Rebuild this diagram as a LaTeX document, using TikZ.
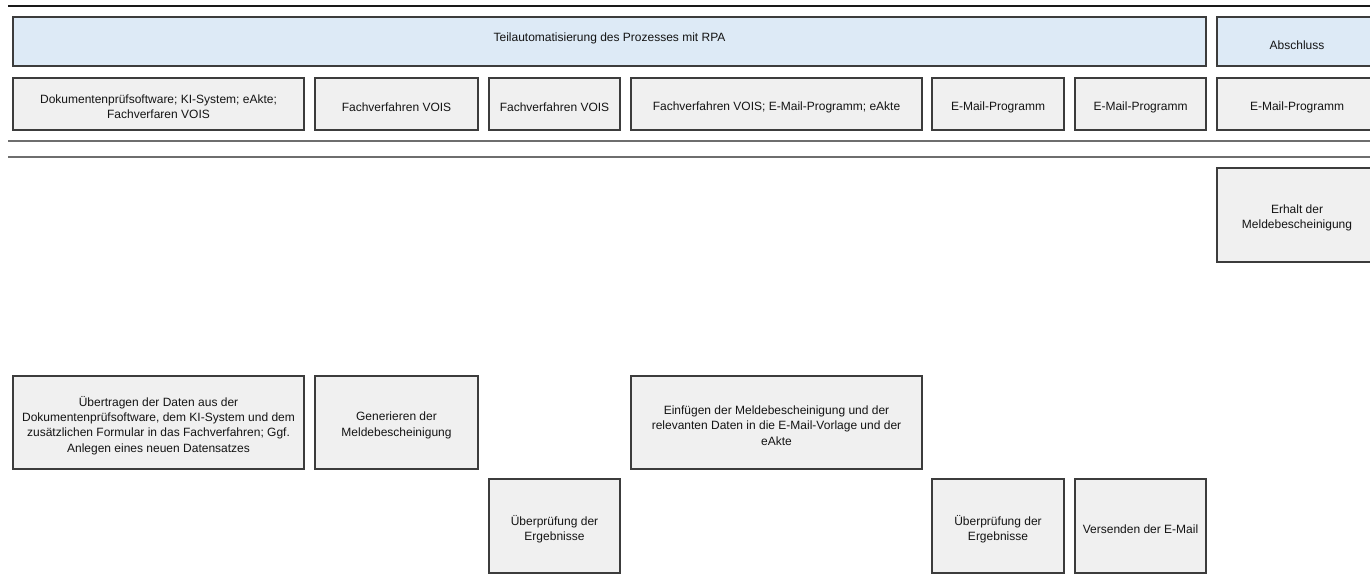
\documentclass[tikz,border=0pt]{standalone}
\usepackage{fontspec}
\setmainfont{Liberation Sans}
\definecolor{boxfill}{HTML}{F0F0F0}
\definecolor{boxline}{HTML}{3C3C3C}
\definecolor{headfill}{HTML}{DDEAF6}
\definecolor{sepline}{HTML}{6E6E6E}
\tikzset{
  cell/.style={draw=boxline, line width=1.3pt, fill=boxfill, inner sep=0pt},
  headcell/.style={cell, fill=headfill},
  celltext/.style={inner sep=0pt, align=center,
    font=\fontsize{12}{15.3}\selectfont, text=black!92},
  rule/.style={line width=2.6pt, black!90},
  thinrule/.style={line width=2pt, sepline}
}
\begin{document}
\begin{tikzpicture}[x=1pt, y=-1pt]
\useasboundingbox (0,0) rectangle (1370,582);

% horizontal rules
\coordinate (r0l) at (8,6);    \coordinate (r0r) at (1370,6);
\coordinate (r1l) at (8,141);  \coordinate (r1r) at (1370,141);
\coordinate (r2l) at (8,157);  \coordinate (r2r) at (1370,157);
\draw[rule] (r0l) -- (r0r);
\draw[thinrule] (r1l) -- (r1r);
\draw[thinrule] (r2l) -- (r2r);

% phase headers
\node[headcell, minimum width=1193pt, minimum height=49pt,
  label={[celltext, yshift=3pt]center:{Teilautomatisierung des Prozesses mit RPA}}] (phase) at (609.5,41.5) {};
\node[headcell, minimum width=160pt, minimum height=49pt,
  label={[celltext, yshift=-3.5pt]center:{Abschluss}}] (closing) at (1297,41.5) {};

% systems row
\node[cell, minimum width=291pt, minimum height=52pt,
  label={[celltext, yshift=-3pt]center:{Dokumentenprüfsoftware; KI-System; eAkte;\\Fachverfaren VOIS}}] (sysA) at (158.5,104) {};
\node[cell, minimum width=163pt, minimum height=52pt,
  label={[celltext, yshift=-3pt]center:{Fachverfahren VOIS}}] (sysB) at (396.5,104) {};
\node[cell, minimum width=131pt, minimum height=52pt,
  label={[celltext, yshift=-3pt]center:{Fachverfahren VOIS}}] (sysC) at (554.5,104) {};
\node[cell, minimum width=291pt, minimum height=52pt,
  label={[celltext, yshift=-3pt]center:{Fachverfahren VOIS; E-Mail-Programm; eAkte}}] (sysD) at (776.5,104) {};
\node[cell, minimum width=132pt, minimum height=52pt,
  label={[celltext, yshift=-3pt]center:{E-Mail-Programm}}] (sysE) at (998,104) {};
\node[cell, minimum width=131pt, minimum height=52pt,
  label={[celltext, yshift=-3pt]center:{E-Mail-Programm}}] (sysF) at (1140.5,104) {};
\node[cell, minimum width=160pt, minimum height=52pt,
  label={[celltext, yshift=-3pt]center:{E-Mail-Programm}}] (sysG) at (1297,104) {};

% activities
\node[cell, minimum width=160pt, minimum height=94pt,
  label={[celltext, yshift=-3pt]center:{Erhalt der\\Meldebescheinigung}}] (receive) at (1297,215) {};
\node[cell, minimum width=291pt, minimum height=93pt,
  label={[celltext, yshift=-3pt]center:{Übertragen der Daten aus der\\Dokumentenprüfsoftware, dem KI-System und dem\\zusätzlichen Formular in das Fachverfahren; Ggf.\\Anlegen eines neuen Datensatzes}}] (transfer) at (158.5,422.5) {};
\node[cell, minimum width=163pt, minimum height=93pt,
  label={[celltext, yshift=-3pt]center:{Generieren der\\Meldebescheinigung}}] (generate) at (396.5,422.5) {};
\node[cell, minimum width=291pt, minimum height=93pt,
  label={[celltext, yshift=-3pt]center:{Einfügen der Meldebescheinigung und der\\relevanten Daten in die E-Mail-Vorlage und der\\eAkte}}] (insert) at (776.5,422.5) {};
\node[cell, minimum width=131pt, minimum height=94pt,
  label={[celltext, yshift=-3pt]center:{Überprüfung der\\Ergebnisse}}] (checkA) at (554.5,526) {};
\node[cell, minimum width=132pt, minimum height=94pt,
  label={[celltext, yshift=-3pt]center:{Überprüfung der\\Ergebnisse}}] (checkB) at (998,526) {};
\node[cell, minimum width=131pt, minimum height=94pt,
  label={[celltext, yshift=-3pt]center:{Versenden der E-Mail}}] (send) at (1140.5,526) {};
\end{tikzpicture}
\end{document}
